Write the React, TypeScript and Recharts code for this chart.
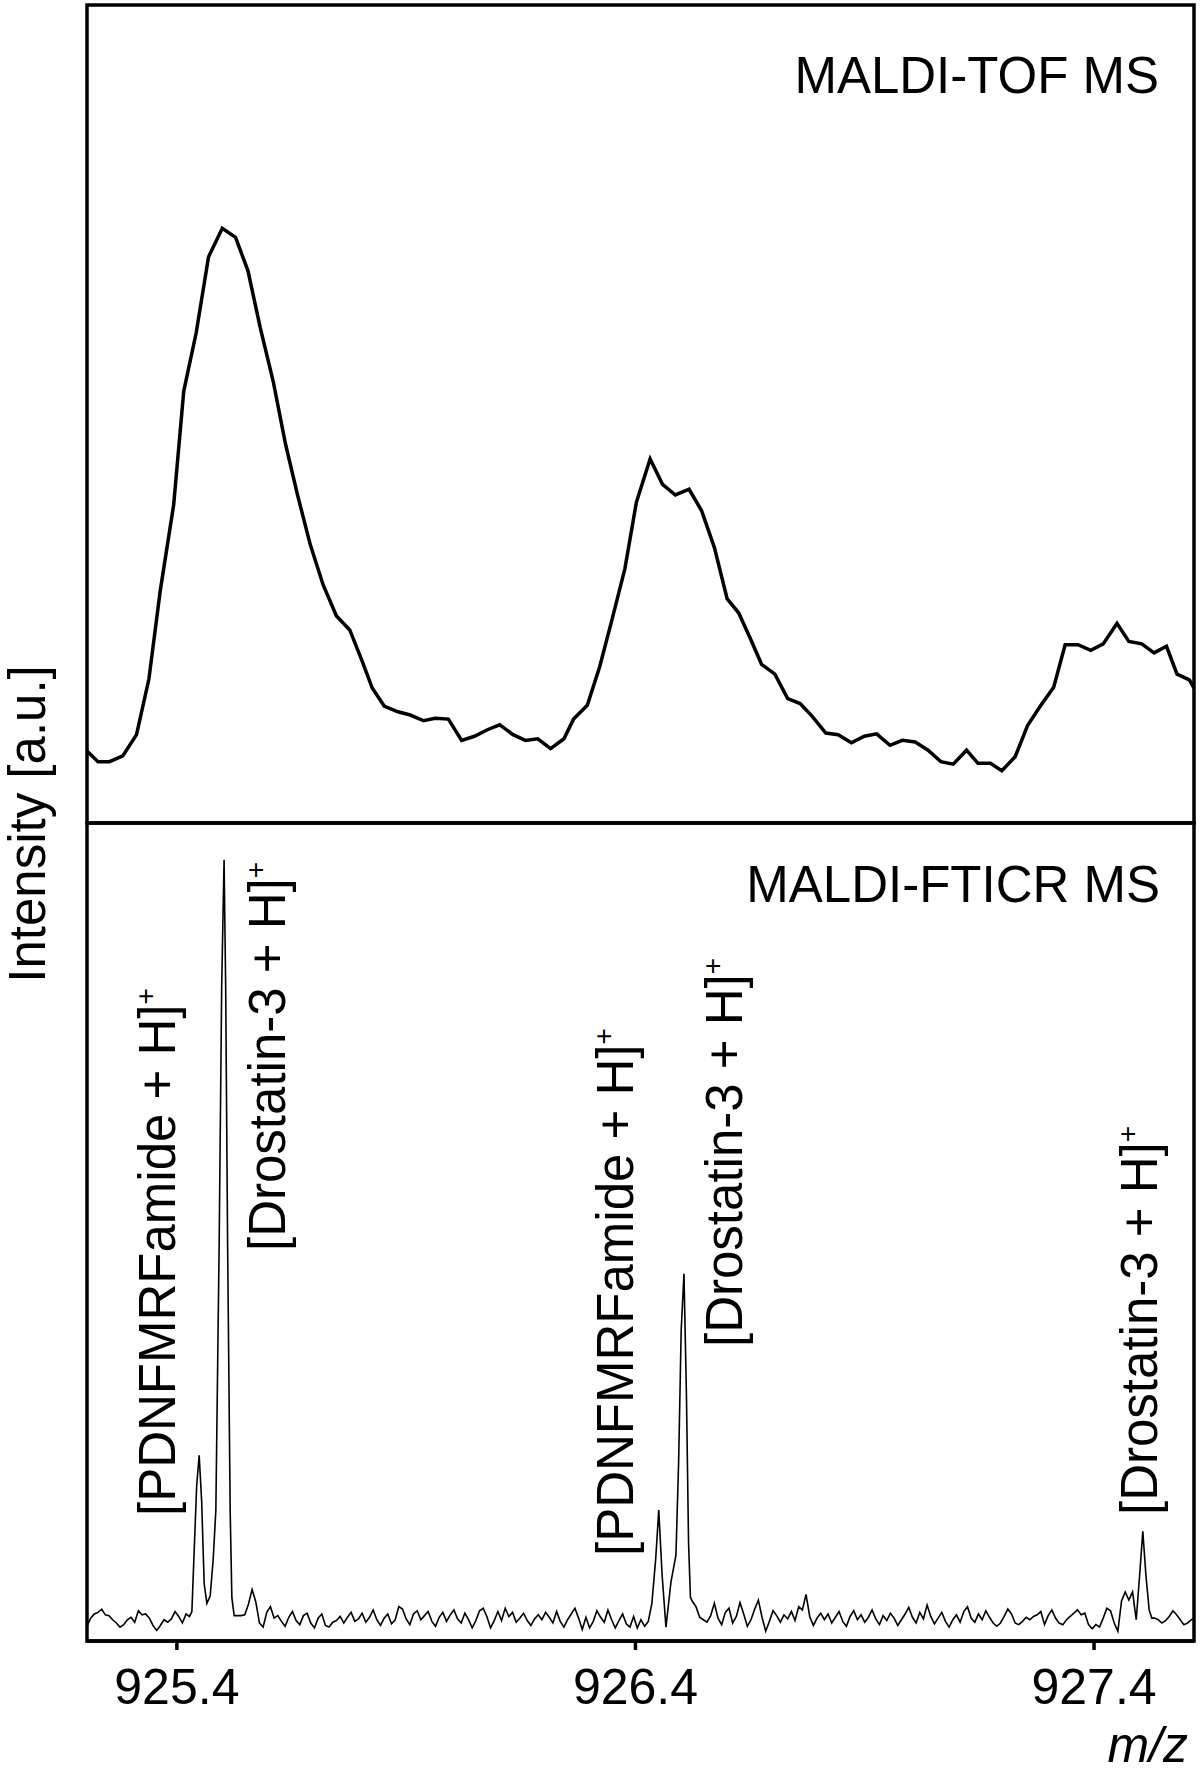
import React from "react";
import { LineChart, Line, XAxis, YAxis, ReferenceArea } from "recharts";

const FONT = '"Liberation Sans", Arial, Helvetica, sans-serif';

const MZ_MIN = 925.204;
const MZ_MAX = 927.618;
const mzTicks = [925.4, 926.4, 927.4];

// MALDI-TOF trace
const tofMz = [
  925.204, 925.228, 925.253, 925.282, 925.312, 925.339, 925.364, 925.393, 925.415, 925.442,
  925.469, 925.499, 925.528, 925.555, 925.582, 925.61, 925.637, 925.664, 925.691, 925.719,
  925.748, 925.777, 925.804, 925.826, 925.852, 925.882, 925.909, 925.938, 925.963, 925.992,
  926.021, 926.049, 926.077, 926.104, 926.133, 926.16, 926.187, 926.215, 926.244, 926.265,
  926.295, 926.322, 926.349, 926.377, 926.402, 926.432, 926.459, 926.487, 926.517, 926.544,
  926.572, 926.6, 926.625, 926.651, 926.675, 926.704, 926.732, 926.759, 926.786, 926.815,
  926.842, 926.871, 926.899, 926.926, 926.955, 926.982, 927.01, 927.038, 927.066, 927.093,
  927.122, 927.147, 927.174, 927.199, 927.228, 927.255, 927.283, 927.312, 927.337, 927.365,
  927.393, 927.42, 927.45, 927.476, 927.504, 927.531, 927.558, 927.581, 927.608, 927.618,
];
const tofIntensity = [
  8.8, 7.5, 7.5, 8.2, 10.8, 17.6, 28.5, 38.9, 52.8, 59.9,
  69.2, 72.7, 71.6, 67.5, 60.5, 54.0, 46.3, 39.9, 34.0, 29.1,
  25.3, 23.6, 19.8, 16.5, 14.3, 13.6, 13.2, 12.5, 12.8, 12.7,
  10.1, 10.6, 11.4, 12.0, 10.8, 10.1, 10.3, 9.1, 10.3, 12.7,
  14.4, 19.1, 24.9, 31.1, 39.2, 44.5, 41.4, 40.1, 40.8, 38.2,
  33.7, 27.4, 25.7, 22.5, 19.4, 18.2, 15.2, 14.6, 13.0, 11.0,
  10.8, 9.8, 10.6, 10.9, 9.5, 10.1, 9.9, 8.9, 7.5, 7.2,
  8.9, 7.3, 7.3, 6.4, 8.1, 11.9, 14.3, 16.6, 21.8, 21.8,
  21.1, 21.9, 24.4, 22.2, 21.9, 20.8, 21.6, 18.2, 17.5, 16.5,
];

// MALDI-FTICR baseline noise, sampled every 0.008 m/z
const FTICR_NOISE_STEP = 0.008;
const fticrNoiseStarts = [925.204, 925.532, 926.532, 927.532];
const fticrNoiseA = [
  1.8, 2.8, 3.3, 3.5, 3.9, 3.2, 3.1, 2.6, 2.2, 1.7,
  2.0, 2.6, 2.9, 2.3, 3.7, 3.2, 3.3, 2.8, 1.9, 1.3,
  1.9, 2.6, 2.3, 2.7, 3.6, 3.0, 2.2, 3.3,
];
const fticrNoiseB = [
  3.1, 3.1, 3.2, 4.5, 6.3, 4.8, 2.2, 1.7, 3.5, 4.2, 2.8, 3.1,
  2.4, 1.8, 2.9, 3.6, 2.5, 2.0, 3.1, 3.4, 2.2, 1.6,
  2.8, 3.3, 1.9, 1.7, 2.3, 2.5, 3.0, 2.2, 2.9, 3.5,
  2.4, 2.7, 3.4, 2.3, 2.9, 3.8, 2.6, 1.9, 2.8, 3.3,
  2.1, 2.6, 4.2, 3.9, 2.7, 2.0, 3.3, 3.7, 2.6, 3.1,
  3.6, 2.4, 1.8, 2.9, 3.5, 2.4, 3.2, 3.8, 2.7, 2.2,
  3.4, 2.6, 1.6, 2.5, 3.7, 4.0, 3.0, 1.6, 2.5, 3.6,
  2.5, 4.0, 3.0, 3.5, 2.3, 2.8, 3.4, 2.5, 1.9, 2.7,
  3.2, 2.6, 3.5, 2.9, 2.2, 3.6, 2.4, 1.7, 2.6, 3.3,
  4.0, 2.8, 1.4, 2.9, 1.6, 2.4, 3.7, 2.9, 2.3, 3.8,
  2.6, 1.6, 2.5, 3.3, 2.1, 1.7, 3.0, 1.6, 2.6, 1.8,
  2.4,
];
const fticrNoiseC = [
  4.2, 2.9, 2.6, 2.3, 3.1, 4.6, 2.8, 2.0, 3.5, 4.0,
  2.2, 3.0, 4.7, 3.3, 1.8, 2.6, 3.9, 5.0, 2.9, 1.2,
  2.4, 3.7, 3.1, 2.3, 3.2, 2.7, 3.6, 2.5, 4.2, 3.8,
  5.7, 3.0, 1.9, 2.8, 3.4, 2.6, 3.3, 2.2, 2.9, 3.6,
  2.4, 1.8, 3.0, 3.7, 2.6, 3.2, 2.3, 2.9, 3.8, 2.7,
  2.0, 3.1, 2.5, 3.4, 2.8, 1.9, 2.6, 3.3, 4.1, 2.9,
  2.2, 3.5, 2.7, 4.4, 3.0, 2.1, 2.8, 3.5, 2.4, 1.7,
  2.6, 3.2, 2.3, 3.6, 4.2, 2.8, 2.3, 3.3, 2.6, 3.7,
  2.9, 2.2, 1.8, 2.2, 3.0, 3.9, 3.3, 2.2, 2.0, 2.4,
  2.9, 2.6, 3.0, 3.2, 3.6, 2.0, 3.1, 3.8, 2.8, 2.2,
  2.0, 2.6, 3.0, 3.4, 3.8, 3.2, 3.4, 2.0, 1.5, 2.0,
  1.7, 2.8, 4.0, 3.7, 2.2, 1.2, 4.9, 6.0, 5.0, 6.0,
  2.6,
];
const fticrNoiseD = [2.8, 2.6, 2.2, 2.5, 3.0, 3.7, 3.2, 2.6, 2.0, 2.2, 2.6, 2.8];

// peak regions, sampled more finely
const fticrPeak1Mz = [
  925.4275, 925.4327, 925.4377, 925.4432, 925.4486, 925.4541, 925.4595, 925.4654, 925.4726, 925.4792,
  925.485, 925.4922, 925.4977, 925.5029, 925.5064, 925.5106, 925.5162, 925.5199, 925.5249,
];
const fticrPeak1Int = [3.0, 3.6, 11, 19, 22.7, 17, 7, 4.6, 5.5, 10, 16, 48.6, 80, 95.5, 80, 48.6, 16, 5.3, 3.1];
const fticrPeak2Mz = [
  926.4358, 926.4441, 926.4508, 926.4582, 926.4665, 926.4774, 926.4883, 926.4942, 926.4997, 926.5058,
  926.5112, 926.5158, 926.5199, 926.5247,
];
const fticrPeak2Int = [4.6, 10, 16, 8, 1.7, 7.2, 10.5, 22, 38, 44.9, 30, 12, 5.3, 4.8];
const fticrPeak3Mz = [927.4994, 927.5064, 927.5132, 927.5202, 927.5261];
const fticrPeak3Int = [8, 13.4, 8, 3.8, 2.8];

const tofData = tofMz.map((mz, i) => ({ mz, v: tofIntensity[i] }));

const noiseSegments = [fticrNoiseA, fticrNoiseB, fticrNoiseC, fticrNoiseD];
const fticrData = [
  ...noiseSegments.flatMap((seg, s) =>
    seg.map((v, i) => ({ mz: fticrNoiseStarts[s] + i * FTICR_NOISE_STEP, v }))
  ),
  ...fticrPeak1Mz.map((mz, i) => ({ mz, v: fticrPeak1Int[i] })),
  ...fticrPeak2Mz.map((mz, i) => ({ mz, v: fticrPeak2Int[i] })),
  ...fticrPeak3Mz.map((mz, i) => ({ mz, v: fticrPeak3Int[i] })),
].sort((a, b) => a.mz - b.mz);

// annotation texts and where they sit on the page
const annotations = [
  { text: "[PDNFMRFamide + H]", x: 175, y: 1516 },
  { text: "[Drostatin-3 + H]", x: 285, y: 1251 },
  { text: "[PDNFMRFamide + H]", x: 633, y: 1556 },
  { text: "[Drostatin-3 + H]", x: 742, y: 1347 },
  { text: "[Drostatin-3 + H]", x: 1157, y: 1515 },
];

function Frame() {
  return (
    <ReferenceArea
      x1={MZ_MIN}
      x2={MZ_MAX}
      y1={0}
      y2={100}
      fill="none"
      stroke="#000"
      strokeWidth={3.5}
      ifOverflow="visible"
    />
  );
}

export default function App() {
  return (
    <div style={{ position: "absolute", left: 0, top: 0, width: 1200, height: 1773, background: "#fff" }}>
      {/* MALDI-TOF panel */}
      <div style={{ position: "absolute", left: 0, top: 0 }}>
        <LineChart width={1200} height={830} data={tofData} margin={{ top: 5, right: 6, bottom: 7, left: 87 }}>
          <XAxis dataKey="mz" type="number" domain={[MZ_MIN, MZ_MAX]} allowDataOverflow hide />
          <YAxis type="number" domain={[0, 100]} allowDataOverflow hide />
          {Frame()}
          <Line
            dataKey="v"
            type="linear"
            stroke="#000"
            strokeWidth={3.5}
            dot={false}
            isAnimationActive={false}
          />
        </LineChart>
      </div>

      {/* MALDI-FTICR panel */}
      <div style={{ position: "absolute", left: 0, top: 818 }}>
        <LineChart width={1200} height={955} data={fticrData} margin={{ top: 5, right: 6, bottom: 52, left: 87 }}>
          <XAxis
            dataKey="mz"
            type="number"
            domain={[MZ_MIN, MZ_MAX]}
            allowDataOverflow
            ticks={mzTicks}
            interval={0}
            tickFormatter={(v) => Number(v).toFixed(1)}
            height={80}
            tickSize={9}
            tickMargin={18}
            axisLine={{ stroke: "#000", strokeWidth: 3.5 }}
            tickLine={{ stroke: "#000", strokeWidth: 3.5 }}
            tick={{ fontSize: 50, fill: "#000", fontFamily: FONT }}
          />
          <YAxis type="number" domain={[0, 100]} allowDataOverflow hide />
          {Frame()}
          <Line
            dataKey="v"
            type="linear"
            stroke="#000"
            strokeWidth={1.6}
            dot={false}
            isAnimationActive={false}
          />
        </LineChart>
      </div>

      {/* texts */}
      <svg
        width={1200}
        height={1773}
        style={{ position: "absolute", left: 0, top: 0, pointerEvents: "none" }}
        fontFamily={FONT}
      >
        <text x={1159} y={93} fontSize={51} textAnchor="end" fill="#000">
          MALDI-TOF MS
        </text>
        <text x={1160} y={902} fontSize={51} textAnchor="end" fill="#000">
          MALDI-FTICR MS
        </text>
        <text
          x={45}
          y={824}
          fontSize={51}
          textAnchor="middle"
          fill="#000"
          transform="rotate(-90 45 824)"
        >
          Intensity [a.u.]
        </text>
        {annotations.map((a, i) => (
          <text
            key={i}
            x={a.x}
            y={a.y}
            fontSize={51}
            fill="#000"
            transform={`rotate(-90 ${a.x} ${a.y})`}
          >
            {a.text}
            <tspan fontSize={28} dy={-20}>+</tspan>
          </text>
        ))}
        <text x={1188} y={1762} fontSize={50} fontStyle="italic" textAnchor="end" fill="#000">
          m/z
        </text>
      </svg>
    </div>
  );
}
